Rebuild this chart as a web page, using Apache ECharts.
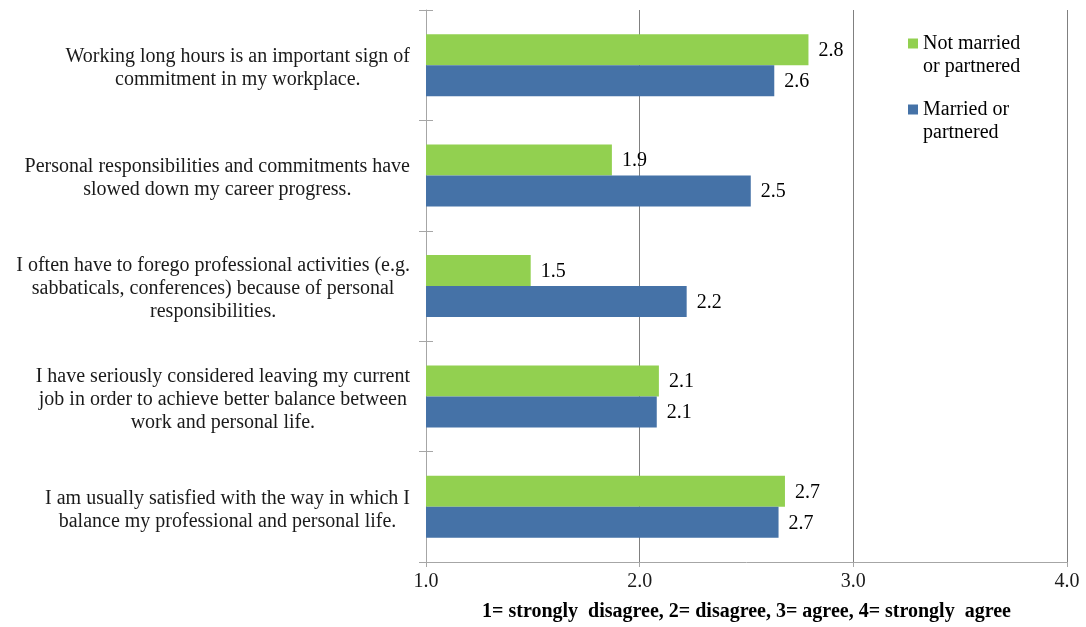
<!DOCTYPE html>
<html>
<head>
<meta charset="utf-8">
<script src="https://cdn.jsdelivr.net/npm/echarts@6/dist/echarts.min.js"></script>
<style>
html,body{margin:0;padding:0;background:#fff;}
#chart{width:1086px;height:627px;}
</style>
</head>
<body>
<div id="chart"></div>
<script>
const categories = [
  "Working long hours is an important sign of\ncommitment in my workplace.",
  "Personal responsibilities and commitments have\nslowed down my career progress.",
  "I often have to forego professional activities (e.g.\nsabbaticals, conferences) because of personal\nresponsibilities.",
  "I have seriously considered leaving my current\njob in order to achieve better balance between\nwork and personal life.",
  "I am usually satisfied with the way in which I\nbalance my professional and personal life."
];
const seriesNames = ["Not married\nor partnered", "Married or\npartnered"];
const notMarried = [2.79, 1.87, 1.49, 2.09, 2.68];
const married = [2.63, 2.52, 2.22, 2.08, 2.65];
const xTicks = [1.0, 2.0, 3.0, 4.0];
const xAxisTitle = "1= strongly  disagree, 2= disagree, 3= agree, 4= strongly  agree";

const FONT = '"Liberation Serif", "Times New Roman", serif';
const fmt1 = v => (Math.round(v * 10 + 1e-6) / 10).toFixed(1);

const chart = echarts.init(document.getElementById('chart'), null, {renderer: 'canvas'});
const labelStyle = {
  show: true, position: 'right', distance: 10, offset: [0, 1],
  fontFamily: FONT, fontSize: 20, color: '#000',
  formatter: p => fmt1(p.value)
};
chart.setOption({
  animation: false,
  backgroundColor: '#fff',
  grid: {left: 426, right: 19, top: 10, bottom: 65, containLabel: false, outerBoundsMode: 'none'},
  legend: {
    orient: 'vertical', left: 908, top: 9, padding: 0,
    itemWidth: 10, itemHeight: 10, itemGap: -3,
    icon: 'rect',
    formatter: name => ' \n' + name,
    textStyle: {fontFamily: FONT, fontSize: 20, color: '#000', lineHeight: 23},
    data: seriesNames
  },
  xAxis: {
    type: 'value', min: xTicks[0], max: xTicks[xTicks.length - 1], interval: 1,
    axisLine: {show: true, lineStyle: {color: '#a6a6a6'}},
    axisTick: {show: true, length: 5, lineStyle: {color: '#a6a6a6'}},
    splitLine: {show: true, lineStyle: {color: '#808080'}},
    axisLabel: {fontFamily: FONT, fontSize: 20, color: '#1a1a1a', margin: 10, formatter: v => v.toFixed(1)},
    name: xAxisTitle, nameLocation: 'middle', nameGap: 40,
    nameTextStyle: {fontFamily: FONT, fontSize: 20, fontWeight: 'bold', color: '#000'}
  },
  yAxis: [{
    type: 'category', inverse: true, data: categories,
    axisLine: {show: true, lineStyle: {color: '#a6a6a6'}},
    axisTick: {show: true, length: 7, lineStyle: {color: '#a6a6a6'}},
    axisLabel: {
      fontFamily: FONT, fontSize: 20, color: '#1a1a1a', margin: 16, lineHeight: 23, align: 'right',
      padding: [6, 0, 0, 0],
      formatter: v => v.split('\n').map(s => '{c|' + s + '}').join('\n'),
      rich: {c: {align: 'center', fontFamily: FONT, fontSize: 20, lineHeight: 23, color: '#1a1a1a'}}
    }
  }, {
    type: 'category', inverse: true, data: categories, position: 'left',
    axisLine: {show: false},
    axisTick: {show: true, inside: true, length: 7, lineStyle: {color: '#a6a6a6'}},
    axisLabel: {show: false}
  }],
  series: [{
    name: seriesNames[0], type: 'bar', data: notMarried, barWidth: 31, barGap: '0%',
    itemStyle: {color: '#92d050'}, label: labelStyle
  }, {
    name: seriesNames[1], type: 'bar', data: married, barWidth: 31, barGap: '0%',
    itemStyle: {color: '#4572a7'}, label: labelStyle
  }]
});
</script>
</body>
</html>
